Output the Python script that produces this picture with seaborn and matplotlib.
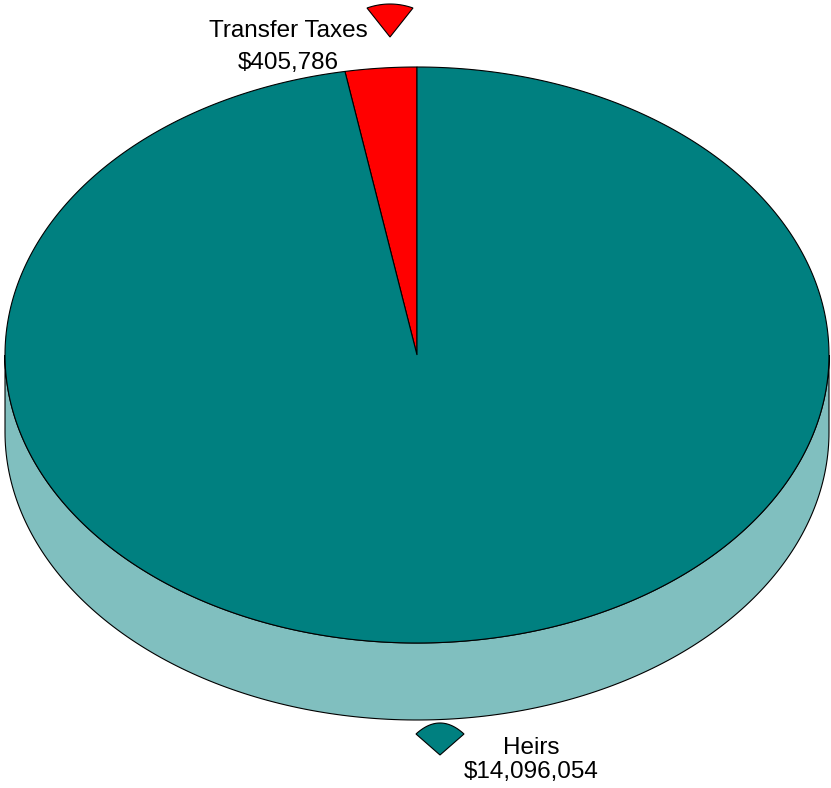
import numpy as np
import matplotlib
matplotlib.use('Agg')
from matplotlib import pyplot as plt
from matplotlib.patches import Polygon
import seaborn as sns

# data
labels = ['Transfer Taxes', 'Heirs']
values = [405786, 14096054]
value_text = ['$405,786', '$14,096,054']

top_colors = ['#FF0000', '#008080']
side_colors = ['#FF8080', '#80BFBF']

sns.set_style('white')
plt.rcParams['font.family'] = ['Liberation Sans', 'DejaVu Sans']

fig = plt.figure(figsize=(8.31, 7.88), dpi=100)
ax = fig.add_axes([0, 0, 1, 1])
ax.set_xlim(0, 831)
ax.set_ylim(788, 0)
ax.axis('off')

# pie geometry (pixels)
cx, cy, rx, ry, depth = 417, 355, 412, 288, 77


def ell(t, dy=0):
    t = np.radians(t)
    return np.column_stack([cx + rx * np.cos(t), cy + dy - ry * np.sin(t)])


fracs = np.array(values) / np.sum(values)
starts = 90 + np.concatenate([[0], np.cumsum(fracs)[:-1]]) * 360
ends = starts + fracs * 360

# side wall (only the front half, angles 180..360, is visible)
for s, e, c in zip(starts, ends, side_colors):
    a, b = max(s, 180), min(e, 360)
    if b <= a:
        continue
    t = np.linspace(a, b, 200)
    pts = np.vstack([ell(t), ell(t[::-1], depth)])
    ax.add_patch(Polygon(pts, closed=True, fc=c, ec='black', lw=0.8))

# top face
for s, e, c in zip(starts, ends, top_colors):
    t = np.linspace(s, e, 400)
    pts = np.vstack([[cx, cy], ell(t)])
    ax.add_patch(Polygon(pts, closed=True, fc=c, ec='black', lw=0.8))


# small wedge markers next to labels
def marker(apex, half_w, end_dy, top_dy, color):
    x0, y0 = apex
    u = np.linspace(-1, 1, 50)
    xs = x0 + half_w * u
    ys = y0 - (end_dy + (top_dy - end_dy) * (1 - u ** 2))
    pts = np.vstack([[x0, y0], np.column_stack([xs, ys])])
    ax.add_patch(Polygon(pts, closed=True, fc=color, ec='black', lw=0.8))


marker((390, 37), 23, 29, 33, top_colors[0])
marker((440, 755), 24, 21, 32, top_colors[1])

fs = 17.5
ax.text(288, 31, labels[0], ha='center', va='center', fontsize=fs, color='black')
ax.text(288, 63, value_text[0], ha='center', va='center', fontsize=fs, color='black')
ax.text(531, 748, labels[1], ha='center', va='center', fontsize=fs, color='black')
ax.text(531, 772, value_text[1], ha='center', va='center', fontsize=fs, color='black')

fig.savefig('out.png', dpi=100)
